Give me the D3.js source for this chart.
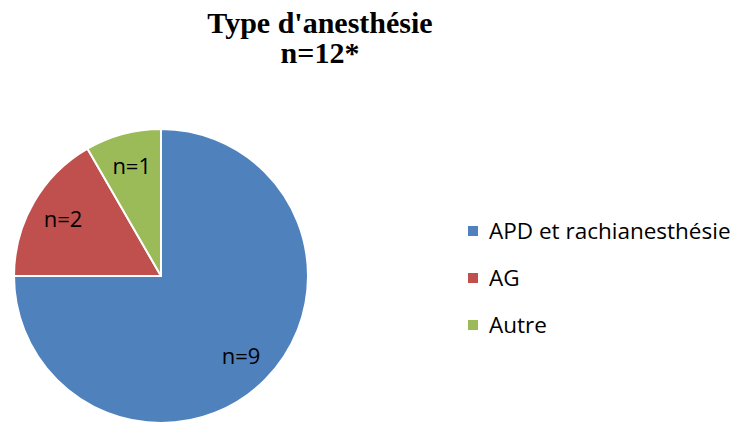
<!DOCTYPE html>
<html>
<head>
<meta charset="utf-8">
<script src="https://cdn.jsdelivr.net/npm/d3@7"></script>
<style>
  body { margin: 0; background: #fff; }
  svg { display: block; }
</style>
</head>
<body>
<svg id="chart" width="741" height="425"></svg>
<script>
// data
const categories = ['APD et rachianesthésie', 'AG', 'Autre'];
const counts = [9, 2, 1];
const sliceLabels = ['n=9', 'n=2', 'n=1'];
const colors = ['#4F81BD', '#C0504D', '#9BBB59'];

const svg = d3.select('#chart');
const cx = 161, cy = 276, r = 147;

// title
const title = svg.append('text')
  .attr('text-anchor', 'middle')
  .attr('font-family', '"Liberation Serif", "Times New Roman", serif')
  .attr('font-weight', 'bold')
  .attr('font-size', 30)
  .attr('fill', '#000');
title.append('tspan').attr('x', 320).attr('y', 33).text("Type d'anesthésie");
title.append('tspan').attr('x', 320).attr('y', 63).text('n=12*');

// pie
const pie = d3.pie().sort(null).value(d => d);
const arcs = pie(counts);
const arc = d3.arc().innerRadius(0).outerRadius(r);

const g = svg.append('g').attr('transform', `translate(${cx},${cy})`);

g.selectAll('path')
  .data(arcs)
  .join('path')
  .attr('d', arc)
  .attr('fill', (d, i) => colors[i])
  .attr('stroke', '#fff')
  .attr('stroke-width', 2)
  .attr('stroke-linejoin', 'round');

const labelArc = d3.arc().innerRadius(r * 0.77).outerRadius(r * 0.77);

g.selectAll('text.lbl')
  .data(arcs)
  .join('text')
  .attr('class', 'lbl')
  .attr('transform', d => `translate(${labelArc.centroid(d)})`)
  .attr('text-anchor', 'middle')
  .attr('dy', '0.35em')
  .attr('font-family', '"Open Sans", "Noto Sans", sans-serif')
  .attr('font-size', 22)
  .attr('fill', '#000')
  .text((d, i) => sliceLabels[i]);

// legend
const legend = svg.append('g').attr('transform', 'translate(468,231)');
const item = legend.selectAll('g')
  .data(categories)
  .join('g')
  .attr('transform', (d, i) => `translate(0,${i * 47})`);

item.append('rect')
  .attr('x', 0).attr('y', -5)
  .attr('width', 10).attr('height', 10)
  .attr('fill', (d, i) => colors[i]);

item.append('text')
  .attr('x', 21)
  .attr('dy', '0.35em')
  .attr('font-family', '"Open Sans", "Noto Sans", sans-serif')
  .attr('font-size', 22.5)
  .attr('fill', '#000')
  .text(d => d);
</script>
</body>
</html>
